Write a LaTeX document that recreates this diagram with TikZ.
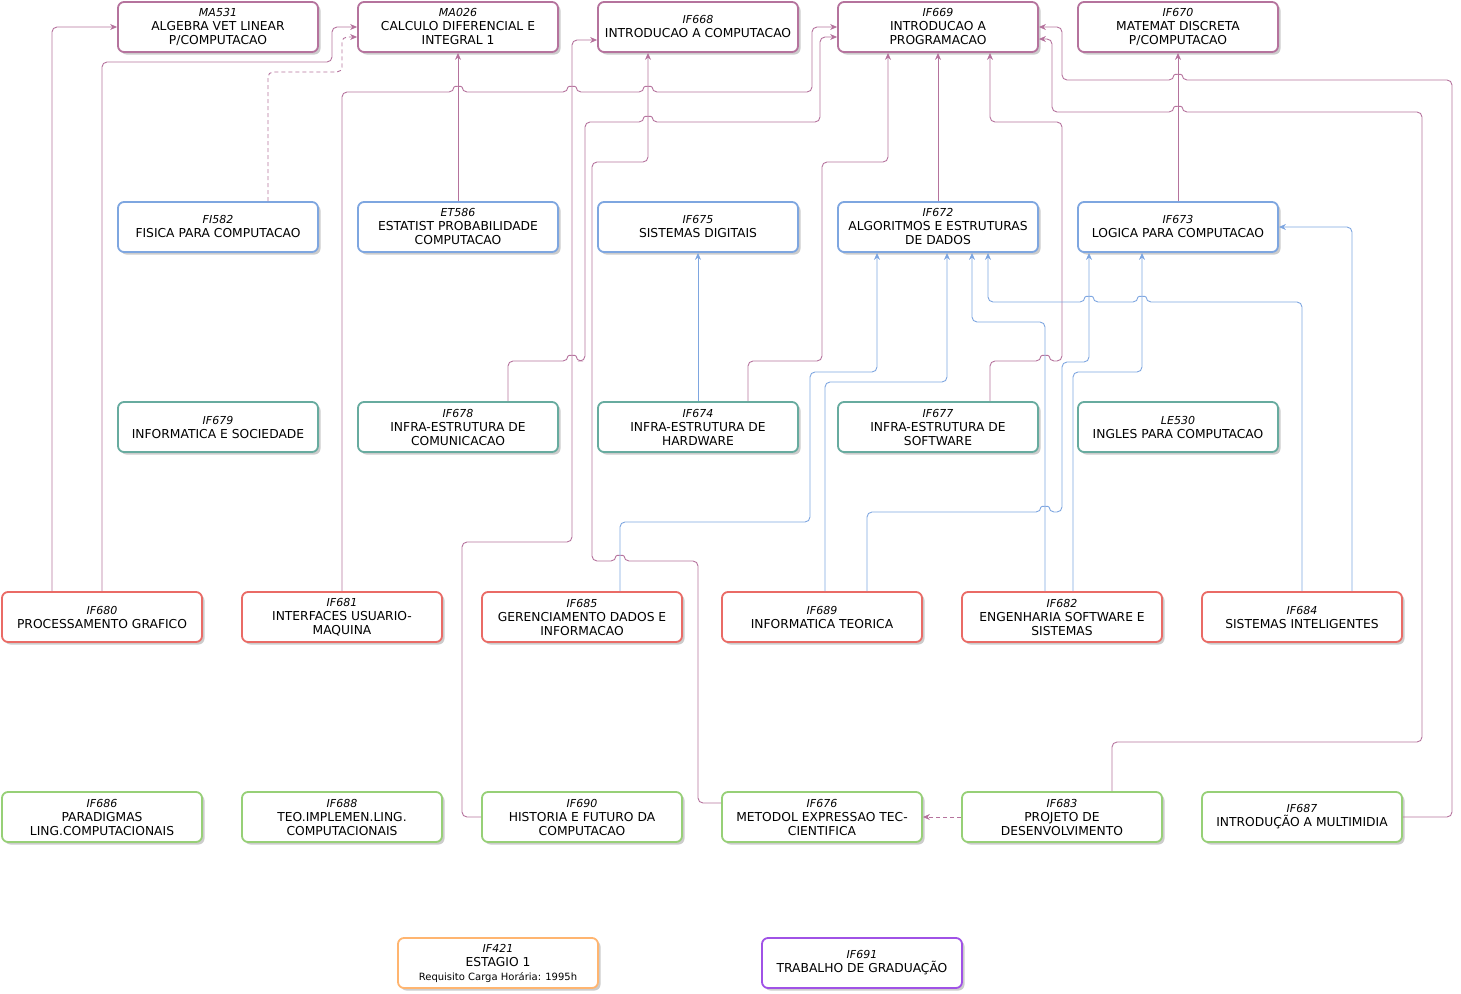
\documentclass[tikz,border=0pt]{standalone}
\usepackage{fontspec}
\setmainfont{DejaVu Sans}
\usetikzlibrary{arrows.meta,shadows}

\definecolor{purpleline}{HTML}{B5739D}
\definecolor{blueline}{HTML}{7EA6E0}
\definecolor{tealline}{HTML}{67AB9F}
\definecolor{redline}{HTML}{EA6B66}
\definecolor{greenline}{HTML}{97D077}
\definecolor{orangeline}{HTML}{FFB570}
\definecolor{violetline}{HTML}{A052E6}

\newcommand{\codefont}{\fontsize{11}{14}\selectfont\itshape}
\newcommand{\course}[2]{{\codefont #1}\\#2}
% little bumps where a line crosses another one
\newcommand{\hop}[2]{-- (#1-4,#2) .. controls (#1-4,#2-6) and (#1+4,#2-6) .. (#1+4,#2)}
\newcommand{\hopleft}[2]{-- (#1+4,#2) .. controls (#1+4,#2-6) and (#1-4,#2-6) .. (#1-4,#2)}

\tikzset{
  course/.style={draw, line width=1.8pt, rounded corners=6pt, fill=white,
    minimum width=200pt, minimum height=50pt, inner sep=0pt, align=center,
    drop shadow={shadow xshift=2.5pt, shadow yshift=-2.5pt, fill=black, opacity=0.2}},
  sem1/.style={course, draw=purpleline},
  sem2/.style={course, draw=blueline},
  sem3/.style={course, draw=tealline},
  sem4/.style={course, draw=redline},
  sem5/.style={course, draw=greenline},
  linkpurple/.style={draw=purpleline, line width=0.9pt, rounded corners=5pt,
    -{Stealth[length=7pt,width=6pt]}},
  linkblue/.style={linkpurple, draw=blueline},
  linkdash/.style={linkpurple, dash pattern=on 4pt off 3pt}
}

\begin{document}
\begin{tikzpicture}[x=1pt, y=-1pt, font=\fontsize{12.3}{14}\selectfont]
\useasboundingbox (0,0) rectangle (1461,993);

% row 1
\node[sem1] (ma531) at (218,27) {\course{MA531}{ALGEBRA VET LINEAR\\P/COMPUTACAO}};
\node[sem1] (ma026) at (458,27) {\course{MA026}{CALCULO DIFERENCIAL E\\INTEGRAL 1}};
\node[sem1] (if668) at (698,27) {\course{IF668}{INTRODUCAO A COMPUTACAO}};
\node[sem1] (if669) at (938,27) {\course{IF669}{INTRODUCAO A\\PROGRAMACAO}};
\node[sem1] (if670) at (1178,27) {\course{IF670}{MATEMAT DISCRETA\\P/COMPUTACAO}};

% row 2
\node[sem2] (fi582) at (218,227) {\course{FI582}{FISICA PARA COMPUTACAO}};
\node[sem2] (et586) at (458,227) {\course{ET586}{ESTATIST PROBABILIDADE\\COMPUTACAO}};
\node[sem2] (if675) at (698,227) {\course{IF675}{SISTEMAS DIGITAIS}};
\node[sem2] (if672) at (938,227) {\course{IF672}{ALGORITMOS E ESTRUTURAS\\DE DADOS}};
\node[sem2] (if673) at (1178,227) {\course{IF673}{LOGICA PARA COMPUTACAO}};

% row 3
\node[sem3] (if679) at (218,427) {\course{IF679}{INFORMATICA E SOCIEDADE}};
\node[sem3] (if678) at (458,427) {\course{IF678}{INFRA-ESTRUTURA DE\\COMUNICACAO}};
\node[sem3] (if674) at (698,427) {\course{IF674}{INFRA-ESTRUTURA DE\\HARDWARE}};
\node[sem3] (if677) at (938,427) {\course{IF677}{INFRA-ESTRUTURA DE\\SOFTWARE}};
\node[sem3] (le530) at (1178,427) {\course{LE530}{INGLES PARA COMPUTACAO}};

% row 4
\node[sem4] (if680) at (102,617) {\course{IF680}{PROCESSAMENTO GRAFICO}};
\node[sem4] (if681) at (342,617) {\course{IF681}{INTERFACES USUARIO-\\MAQUINA}};
\node[sem4] (if685) at (582,617) {\course{IF685}{GERENCIAMENTO DADOS E\\INFORMACAO}};
\node[sem4] (if689) at (822,617) {\course{IF689}{INFORMATICA TEORICA}};
\node[sem4] (if682) at (1062,617) {\course{IF682}{ENGENHARIA SOFTWARE E\\SISTEMAS}};
\node[sem4] (if684) at (1302,617) {\course{IF684}{SISTEMAS INTELIGENTES}};

% row 5
\node[sem5] (if686) at (102,817) {\course{IF686}{PARADIGMAS\\LING.COMPUTACIONAIS}};
\node[sem5] (if688) at (342,817) {\course{IF688}{TEO.IMPLEMEN.LING.\\COMPUTACIONAIS}};
\node[sem5] (if690) at (582,817) {\course{IF690}{HISTORIA E FUTURO DA\\COMPUTACAO}};
\node[sem5] (if676) at (822,817) {\course{IF676}{METODOL EXPRESSAO TEC-\\CIENTIFICA}};
\node[sem5] (if683) at (1062,817) {\course{IF683}{PROJETO DE\\DESENVOLVIMENTO}};
\node[sem5] (if687) at (1302,817) {\course{IF687}{INTRODUÇÃO A MULTIMIDIA}};

% row 6
\node[course, draw=orangeline] (if421) at (498,963)
  {\course{IF421}{ESTAGIO 1\\{\fontsize{10}{14}\selectfont Requisito Carga Horária: 1995h}}};
\node[course, draw=violetline] (if691) at (862,963) {\course{IF691}{TRABALHO DE GRADUAÇÃO}};

% purple prerequisites
\draw[linkpurple] ([xshift=-50pt]if680.north) |- (ma531.west);
\draw[linkpurple] (if680.north) |- (332,62) |- (ma026.west);
\draw[linkdash] ([xshift=50pt]fi582.north) |- (342,72) |- ([yshift=-10pt]ma026.west);
\draw[linkpurple] (et586.north) -- (ma026.south);
\draw[linkpurple] (if681.north) -- (342,92) \hop{458}{92} \hop{572}{92} \hop{648}{92}
  -| (812,27) -- (if669.west);
\draw[linkpurple] (if690.west) -| (462,542) -| (572,40) -- ([yshift=-13pt]if668.west);
\draw[linkpurple] ([yshift=14pt]if676.west) -| (698,561) \hopleft{620}{561}
  -| (592,162) -| ([xshift=-50pt]if668.south);
\draw[linkpurple] ([xshift=50pt]if678.north) -- (508,361) \hop{572}{361}
  -- (585,361) -- (585,122) \hop{648}{122} -| (820,37) -- ([yshift=-10pt]if669.west);
\draw[linkpurple] ([xshift=50pt]if674.north) |- (822,361) |- (888,162)
  -- ([xshift=-50pt]if669.south);
\draw[linkpurple] (if672.north) -- (if669.south);
\draw[linkpurple] ([xshift=52pt]if677.north) -- (990,361) \hop{1045}{361}
  -| (1062,122) -| ([xshift=52pt]if669.south);
\draw[linkpurple] (if687.east) -| (1452,80) \hopleft{1178}{80} -| (1062,27) -- (if669.east);
\draw[linkpurple] ([xshift=50pt]if683.north) |- (1422,742) -- (1422,112) \hopleft{1178}{112}
  -| (1052,39) -- ([yshift=-12pt]if669.east);
\draw[linkpurple] (if673.north) -- (if670.south);
\draw[linkdash] (if683.west) -- (if676.east);

% blue prerequisites
\draw[linkblue] (if674.north) -- (if675.south);
\draw[linkblue] ([xshift=38pt]if685.north) |- (810,522) |- (877,372) -- ([xshift=-61pt]if672.south);
\draw[linkblue] ([xshift=3pt]if689.north) |- (947,382) -- ([xshift=9pt]if672.south);
\draw[linkblue] ([xshift=45pt]if689.north) -- (867,512) \hop{1045}{512}
  -| (1062,362) -| ([xshift=-89pt]if673.south);
\draw[linkblue] ([xshift=-17pt]if682.north) |- (972,322) -- ([xshift=34pt]if672.south);
\draw[linkblue] ([xshift=11pt]if682.north) |- (1142,372) -- ([xshift=-36pt]if673.south);
\draw[linkblue] (if684.north) -- (1302,302) \hopleft{1142}{302} \hopleft{1089}{302}
  -| ([xshift=50pt]if672.south);
\draw[linkblue] ([xshift=50pt]if684.north) |- (if673.east);

\end{tikzpicture}
\end{document}
